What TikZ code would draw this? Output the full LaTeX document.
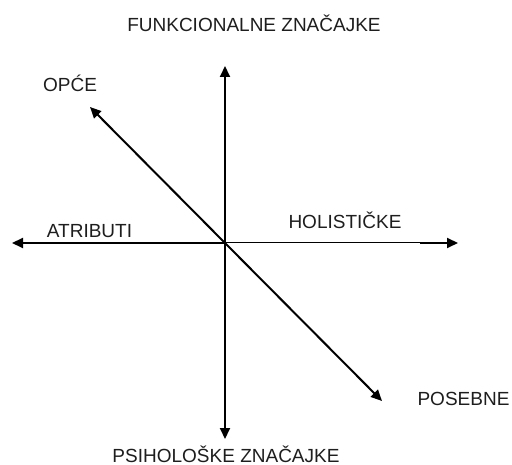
\documentclass[tikz,border=0pt]{standalone}
\usepackage{fontspec}
\setmainfont{Liberation Sans}
\usetikzlibrary{arrows.meta}
\definecolor{txt}{HTML}{1E1E1E}
\begin{document}
\begin{tikzpicture}[x=1pt,y=-1pt,
  lbl/.style={anchor=base,inner sep=0pt,text=txt,font=\fontsize{19}{23}\selectfont},
  axis/.style={line width=2pt,-{Triangle[length=11pt,width=10pt]}},
  thinaxis/.style={line width=1pt,-{Triangle[length=11pt,width=10pt]}}]
\useasboundingbox (0,0) rectangle (512,465);
\fill[white] (0,0) rectangle (512,465);
% coordinates
\coordinate (c) at (225,243);
\coordinate (t) at (225,66);
\coordinate (b) at (225,439);
\coordinate (l) at (12,243);
\coordinate (r) at (458,243);
\coordinate (rr) at (420,243);
\coordinate (ul) at (90,107);
\coordinate (lr) at (382,401);
% labels
\node[lbl] (funk) at (254,31.7) {FUNKCIONALNE ZNAČAJKE};
\node[lbl] (opce) at (70,92) {OPĆE};
\node[lbl] (atr) at (89.5,238) {ATRIBUTI};
\node[lbl] (hol) at (345,229) {HOLISTIČKE};
\node[lbl] (pos) at (463.5,406) {POSEBNE};
\node[lbl] (psi) at (226,462) {PSIHOLOŠKE ZNAČAJKE};
% axes
\draw[axis] (c) -- (t);
\draw[axis] (c) -- (b);
\draw[axis] (c) -- (l);
\draw[line width=1pt] (c) -- (rr);
\draw[axis] (rr) -- (r);
\draw[axis] (c) -- (ul);
\draw[axis] (c) -- (lr);
\end{tikzpicture}
\end{document}
